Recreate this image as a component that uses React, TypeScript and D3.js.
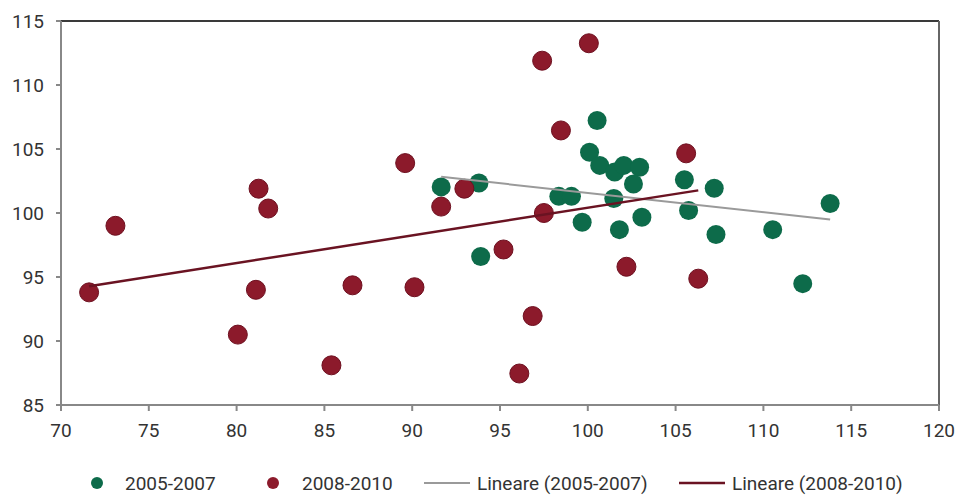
import React from "react";
import * as d3 from "d3";

const xTicks = [70, 75, 80, 85, 90, 95, 100, 105, 110, 115, 120];
const yTicks = [85, 90, 95, 100, 105, 110, 115];

const greenX = [91.65, 93.8, 100.53, 100.1, 100.68, 101.53, 102.05, 102.95, 102.6, 105.5, 107.2, 113.8, 98.35, 99.07, 101.48, 105.74, 103.08, 99.68, 101.8, 107.3, 110.53, 93.9, 112.24];
const greenY = [102.04, 102.35, 107.23, 104.74, 103.72, 103.2, 103.72, 103.57, 102.27, 102.6, 101.93, 100.74, 101.3, 101.3, 101.13, 100.2, 99.67, 99.28, 98.7, 98.32, 98.7, 96.6, 94.48];

const redX = [71.6, 73.1, 81.25, 81.8, 81.1, 80.07, 85.4, 86.6, 90.13, 89.6, 91.65, 92.97, 95.2, 97.4, 100.06, 98.47, 97.5, 105.6, 96.86, 96.1, 102.2, 106.29];
const redY = [93.8, 99.0, 101.9, 100.35, 94.0, 90.5, 88.1, 94.35, 94.2, 103.9, 100.5, 101.9, 97.15, 111.9, 113.26, 106.45, 100.0, 104.66, 91.95, 87.46, 95.8, 94.87];

const seriesNames = ["2005-2007", "2008-2010", "Lineare (2005-2007)", "Lineare (2008-2010)"];

const GREEN = "#0d6b4a";
const RED = "#8c1a2b";
const GRAY_LINE = "#9a9a9a";
const RED_LINE = "#6a1322";
const FONT = "Roboto";

function regression(xs: number[], ys: number[]) {
  const mx = d3.mean(xs)!;
  const my = d3.mean(ys)!;
  let num = 0, den = 0;
  xs.forEach((x, i) => { num += (x - mx) * (ys[i] - my); den += (x - mx) * (x - mx); });
  const b = num / den;
  const a = my - b * mx;
  const [x0, x1] = d3.extent(xs) as [number, number];
  return [[x0, a + b * x0], [x1, a + b * x1]];
}

export default function App() {
  const W = 958, H = 495;
  const left = 61, right = 939, top = 21, bottom = 405;
  const x = d3.scaleLinear().domain([70, 120]).range([left, right]);
  const y = d3.scaleLinear().domain([85, 115]).range([bottom, top]);
  const line = d3.line<number[]>().x(d => x(d[0])).y(d => y(d[1]));
  const gReg = regression(greenX, greenY);
  const rReg = regression(redX, redY);
  const green = greenX.map((v, i) => [v, greenY[i]]);
  const red = redX.map((v, i) => [v, redY[i]]);
  const fs = 19;
  const ly = 483;

  return (
    <svg width={W} height={H} style={{ position: "absolute", left: 0, top: 0, background: "#fff" }} fontFamily={FONT}>
      <rect x={0} y={0} width={W} height={H} fill="#fff" />
      <line x1={left} x2={right} y1={top} y2={top} stroke="#3a3a3a" strokeWidth={2} />
      <line x1={right} x2={right} y1={top} y2={bottom} stroke="#666" strokeWidth={2} />
      <line x1={left} x2={left} y1={top} y2={bottom} stroke="#888" strokeWidth={2} />
      <line x1={left} x2={right} y1={bottom} y2={bottom} stroke="#888" strokeWidth={2} />
      {yTicks.map(t => (
        <g key={"y" + t}>
          <line x1={left - 5} x2={left} y1={y(t)} y2={y(t)} stroke="#888" strokeWidth={2} />
          <text x={44} y={y(t)} dy="0.35em" textAnchor="end" fontSize={fs} fill="#333">{t}</text>
        </g>
      ))}
      {xTicks.map(t => (
        <g key={"x" + t}>
          <line x1={x(t)} x2={x(t)} y1={bottom} y2={bottom + 6} stroke="#888" strokeWidth={2} />
          <text x={x(t)} y={430} dy="0.35em" textAnchor="middle" fontSize={fs} fill="#333">{t}</text>
        </g>
      ))}
      {green.map((d, i) => (
        <circle key={"g" + i} cx={x(d[0])} cy={y(d[1])} r={9.5} fill={GREEN} />
      ))}
      {red.map((d, i) => (
        <circle key={"r" + i} cx={x(d[0])} cy={y(d[1])} r={9.5} fill={RED} stroke="#6e1020" strokeWidth={1} />
      ))}
      <path d={line(gReg as number[][])!} stroke={GRAY_LINE} strokeWidth={2} fill="none" />
      <path d={line(rReg as number[][])!} stroke={RED_LINE} strokeWidth={2.5} fill="none" />
      <g fontSize={fs} fill="#333">
        <circle cx={97} cy={ly} r={6} fill={GREEN} />
        <text x={125} y={ly} dy="0.35em">{seriesNames[0]}</text>
        <circle cx={273} cy={ly} r={6} fill={RED} />
        <text x={302} y={ly} dy="0.35em">{seriesNames[1]}</text>
        <line x1={424} x2={470} y1={ly} y2={ly} stroke={GRAY_LINE} strokeWidth={2} />
        <text x={477} y={ly} dy="0.35em">{seriesNames[2]}</text>
        <line x1={679} x2={725} y1={ly} y2={ly} stroke={RED_LINE} strokeWidth={2.5} />
        <text x={732} y={ly} dy="0.35em">{seriesNames[3]}</text>
      </g>
    </svg>
  );
}
